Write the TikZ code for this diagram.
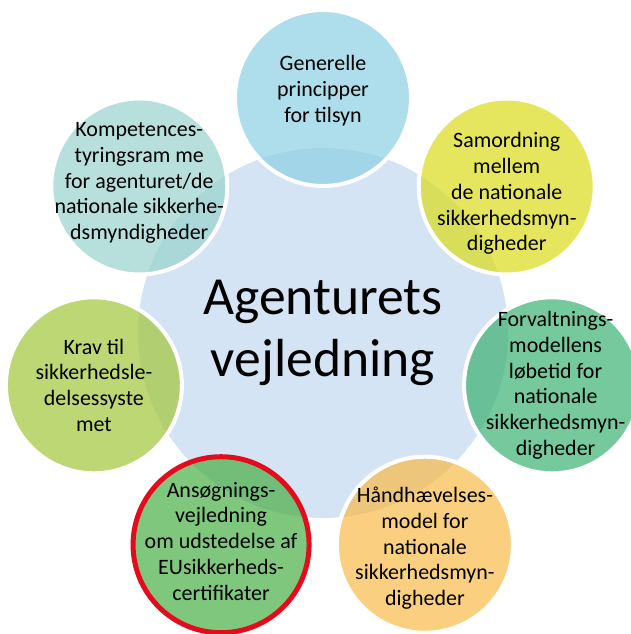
\documentclass[tikz,border=0pt]{standalone}
\usepackage{fontspec}
\setmainfont{Carlito}
\definecolor{hubblue}{RGB}{213,228,244}
\definecolor{skyblue}{RGB}{139,208,226}
\definecolor{lemon}{RGB}{220,220,25}
\definecolor{seagreen}{RGB}{60,178,114}
\definecolor{apricot}{RGB}{248,186,72}
\definecolor{leafgreen}{RGB}{72,175,68}
\definecolor{lime}{RGB}{162,198,58}
\definecolor{teal}{RGB}{152,211,205}
\definecolor{alertred}{RGB}{228,12,28}
\begin{document}
\begin{tikzpicture}[
  petal/.style={circle, minimum size=3.52cm, inner sep=0pt, draw=white, line width=0.08cm, fill opacity=0.7},
  petaltext/.style={align=center, font=\fontsize{12.5}{14.7}\selectfont},
]
\useasboundingbox (-6.46,-6.02) rectangle (6.14,6.66);
\node[circle, fill=hubblue, minimum size=7.4cm, inner sep=0pt, align=center,
  font=\fontsize{30.5}{35}\selectfont] (hub) at (0,0) {Agenturets\\vejledning};

% the seven petals round the hub
\node[petal, fill=skyblue] (tilsyn) at (90:4.7) {};
\node[petal, fill=lemon] (samordning) at (38.57:4.7) {};
\node[petal, fill=seagreen] (forvaltning) at (-12.86:4.7) {};
\node[petal, fill=apricot] (haandhaevelse) at (-64.29:4.7) {};
\node[petal, fill=leafgreen, draw=alertred, line width=0.1cm] (ansoegning) at (-115.71:4.7) {};
\node[petal, fill=lime] (krav) at (192.86:4.7) {};
\node[petal, fill=teal] (kompetence) at (141.43:4.7) {};

\node[petaltext] (tilsyn-t) at ([yshift=4pt]tilsyn) {Generelle\\principper\\for tilsyn};
\node[petaltext] (samordning-t) at ([yshift=-4pt]samordning) {Samordning\\mellem\\de nationale\\sikkerhedsmyn-\\digheder};
\node[petaltext] (forvaltning-t) at ([xshift=2pt]forvaltning) {Forvaltnings-\\modellens\\løbetid for\\nationale\\sikkerhedsmyn-\\digheder};
\node[petaltext] (haandhaevelse-t) at ([yshift=-2pt]haandhaevelse) {Håndhævelses-\\model for\\nationale\\sikkerhedsmyn-\\digheder};
\node[petaltext] (ansoegning-t) at ([yshift=2pt]ansoegning) {Ansøgnings-\\vejledning\\om udstedelse af\\EUsikkerheds-\\certifikater};
\node[petaltext] (krav-t) at (krav) {Krav til\\sikkerhedsle-\\delsessyste\\met};
\node[petaltext] (kompetence-t) at ([yshift=2pt]kompetence) {Kompetences-\\tyringsram me\\for agenturet/de\\nationale sikkerhe-\\dsmyndigheder};
\end{tikzpicture}
\end{document}
